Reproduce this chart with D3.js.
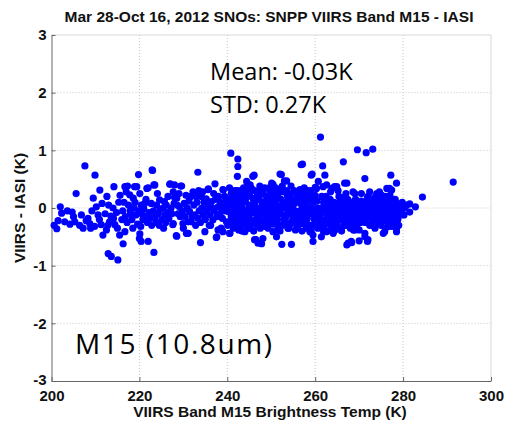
<!DOCTYPE html>
<html>
<head>
<meta charset="utf-8">
<script src="https://d3js.org/d3.v7.min.js"></script>
<style>
body { margin: 0; background: #fff; }
svg text { font-family: "Liberation Sans", Arial, sans-serif; }
</style>
</head>
<body>
<div id="chart"></div>
<script>
// chart values
var xTicks = [200, 220, 240, 260, 280, 300];
var yTicks = [-3, -2, -1, 0, 1, 2, 3];
var titleText = "Mar 28-Oct 16, 2012 SNOs: SNPP VIIRS Band M15 - IASI";
var statLines = ["Mean: -0.03K", "STD: 0.27K"];
var bandLabel = "M15 (10.8um)";

// [VIIRS brightness temp (K), VIIRS - IASI (K)]
var leftPoints = [
 [200.6,-0.30],[201.2,-0.36],[202.0,0.02],[202.3,-0.09],[203.0,-0.24],[203.6,-0.05],[201.5,-0.22],
 [204.7,-0.07],[205.3,-0.24],[205.6,0.25],[206.4,-0.30],[207.2,-0.35],[207.6,0.73],[205.0,-0.15],[206.8,-0.12],[207.9,-0.22],[204.2,-0.28],
 [208.3,-0.18],[208.9,-0.35],[209.5,0.17],[209.9,0.57],[210.2,0.02],[210.6,-0.12],[211.0,0.31],[211.3,-0.29],[211.7,-0.47],[209.2,-0.05],[210.9,-0.20],[211.5,0.08],[208.7,-0.27],[209.8,-0.32],
 [212.5,-0.38],[212.6,0.20],[212.9,-0.79],[213.2,-0.24],[213.6,-0.84],[214.0,0.00],[214.2,0.37],[214.4,-0.29],[215.1,-0.90],[215.6,0.22],[212.2,-0.10],[213.0,0.05],[213.5,-0.14],[214.8,-0.08],[215.3,0.10],[214.1,-0.18],[215.0,-0.35],[212.8,-0.30],[215.5,-0.47],
 [216.3,-0.62],[216.7,0.37],[217.0,0.28],[217.3,0.38],[217.8,0.23],[216.7,-0.41],[218.5,-0.35],[218.6,0.17],[218.9,0.37],[219.4,0.37],[219.8,0.58],[216.2,-0.05],[216.8,-0.15],[217.2,-0.25],[217.5,0.05],[218.0,-0.10],[218.3,-0.20],[218.8,0.00],[219.2,-0.12],[219.6,-0.28],[216.5,0.10],[217.9,-0.05],[219.0,0.10],[219.9,-0.05],[216.0,-0.20],
 [220.1,0.25],[220.0,-0.53],[220.1,-0.45],[220.4,0.05],[220.4,-0.58],[221.2,0.08],[221.7,0.34],[222.0,-0.58],[222.0,0.35],[222.7,0.08],[222.9,0.66],[223.0,0.65],[223.3,0.40],[223.3,-0.77],[223.5,0.40],[220.5,-0.10],[220.8,-0.20],[221.0,-0.02],[221.4,-0.15],[221.8,-0.25],[222.2,-0.08],[222.5,-0.18],[222.8,-0.30],[223.2,-0.05],[223.6,-0.15],[223.9,0.05],[221.5,0.15],[220.3,-0.32],[223.8,-0.25],
 [224.6,0.14],[225.7,0.11],[226.9,0.41],[227.0,0.42],[227.7,0.28],[227.6,-0.29],[227.7,-0.27],[228.0,0.40],[228.0,0.18],[228.4,-0.48],[228.5,0.17],[228.5,-0.49],[224.3,-0.10],[224.8,-0.02],[225.1,-0.20],[225.4,0.00],[225.8,-0.12],[226.1,0.05],[226.4,-0.08],[226.7,-0.18],[227.2,0.00],[227.4,-0.10],[224.5,-0.30],[225.5,-0.35],[226.5,0.20],[227.9,0.08],[224.1,0.25],[226.0,-0.25],
 [229.4,0.38],[229.6,0.38],[229.9,-0.27],[230.7,-0.44],[230.8,-0.44],[231.1,-0.24],[231.1,-0.44],[231.4,-0.06],[231.8,-0.24],[228.8,-0.10],[229.1,0.02],[229.3,-0.15],[229.8,-0.05],[230.2,0.08],[230.4,-0.15],[230.9,0.00],[231.3,0.12],[231.7,0.20],[228.6,0.05],[230.0,-0.35],[229.0,0.25],[230.6,0.22],
 [232.2,0.28],[232.6,-0.12],[232.9,0.20],[233.3,-0.18],[233.3,0.62],[233.9,-0.60],[234.1,0.20],[234.9,-0.41],[235.2,0.16],[235.6,0.32],[235.7,0.33],[232.4,0.05],[232.8,-0.30],[233.1,0.10],[233.6,-0.05],[233.9,-0.25],[234.2,0.00],[234.5,-0.12],[234.7,0.10],[235.0,-0.20],[235.3,-0.05],[235.6,0.05],[235.9,-0.30],[232.0,-0.15],[233.5,0.30],[234.4,0.28],
 [236.0,-0.12],[236.4,0.11],[236.7,-0.21],[237.2,0.42],[237.5,-0.51],[237.6,-0.50],[237.9,0.02],[237.9,-0.38],[238.6,0.00],[238.6,-0.35],[238.7,-0.38],[239.0,0.32],[239.0,-0.41],[239.1,0.31],[239.4,0.20],[239.8,0.11],[239.8,-0.24],[236.2,-0.30],[236.6,0.00],[237.0,-0.05],[237.3,0.15],[237.6,-0.15],[238.0,0.20],[238.3,-0.10],[238.9,-0.18],[239.3,-0.05],[239.6,0.02],[236.9,0.25],[238.4,0.10]
];

var midPoints = [
 [240.2,-0.06],[240.5,-0.44],[240.6,-0.44],[240.8,0.95],[240.9,-0.15],[240.3,0.15],[240.7,0.05],[240.4,-0.25],[240.9,0.25],[240.1,-0.30],[240.5,0.35],
 [241.2,-0.10],[241.5,0.00],[241.8,0.10],[241.3,0.20],[241.6,-0.20],[241.9,-0.30],[241.1,0.08],[241.4,-0.35],[241.7,0.30],[241.0,-0.22],
 [242.4,0.85],[242.4,0.72],[242.3,0.55],[242.8,0.20],[242.1,-0.05],[242.3,-0.15],[242.5,0.05],[242.7,-0.25],[242.9,0.10],[242.2,0.30],[242.6,-0.38],[242.0,0.18],[242.0,-0.28],
 [243.2,0.25],[243.1,-0.10],[243.4,0.00],[243.6,-0.20],[243.8,0.12],[243.3,-0.30],[243.7,0.35],[243.5,-0.05],[243.9,-0.15],[243.0,0.08],[243.0,0.30],[243.5,0.18],[243.3,-0.40],
 [244.0,-0.41],[244.4,0.46],[244.7,0.41],[244.2,0.10],[244.5,-0.05],[244.8,-0.20],[244.3,-0.28],[244.6,0.20],[244.9,0.00],[244.1,-0.12],[244.5,0.30],[244.0,0.25],[244.8,-0.35],
 [245.5,0.34],[245.8,0.55],[245.2,-0.10],[245.4,0.05],[245.6,-0.25],[245.9,0.15],[245.1,0.22],[245.3,-0.35],[245.7,-0.02],[245.0,-0.18],[245.2,0.40],
 [246.1,0.57],[246.2,-0.55],[246.5,-0.55],[246.3,0.10],[246.6,-0.10],[246.9,0.25],[246.4,-0.20],[246.7,0.00],[246.2,0.30],[246.8,-0.30],[246.0,0.05],[246.5,0.18],[246.0,-0.40],
 [247.0,-0.61],[247.1,-0.32],[247.8,-0.62],[247.3,0.15],[247.5,-0.05],[247.7,0.30],[247.2,-0.15],[247.9,0.05],[247.4,0.38],[247.6,-0.22],[247.0,0.20],[247.5,-0.35],
 [248.1,-0.53],[248.5,0.35],[248.2,0.10],[248.4,-0.10],[248.7,-0.25],[248.9,0.20],[248.3,-0.02],[248.6,0.05],[248.8,-0.15],[248.0,0.25],[248.2,0.30],[248.5,-0.32],
 [249.3,-0.35],[249.1,0.15],[249.4,0.00],[249.6,-0.20],[249.8,0.30],[249.2,-0.10],[249.5,0.22],[249.9,-0.05],[249.7,0.08],[249.0,-0.25],[249.5,0.35],
 [250.1,0.43],[250.4,0.41],[250.4,-0.41],[250.2,-0.15],[250.5,0.10],[250.7,-0.05],[250.9,0.20],[250.3,0.00],[250.6,-0.28],[250.8,-0.10],[250.0,-0.25],[250.5,0.30],[250.0,0.12],
 [251.2,-0.50],[251.5,0.23],[251.1,0.05],[251.4,-0.20],[251.7,0.00],[251.9,-0.30],[251.3,0.15],[251.6,-0.08],[251.8,0.30],[251.0,0.35],[251.5,-0.38],
 [252.0,0.59],[252.3,0.58],[252.4,-0.63],[252.7,0.28],[252.1,-0.10],[252.5,0.05],[252.8,-0.20],[252.2,0.15],[252.6,-0.30],[252.9,0.00],[252.0,-0.40],[252.5,0.38],
 [253.0,0.47],[253.5,0.47],[253.2,0.10],[253.4,-0.15],[253.7,0.20],[253.9,-0.05],[253.1,-0.25],[253.6,0.00],[253.8,-0.35],[253.0,-0.12],[253.5,0.30],
 [254.2,-0.29],[254.6,-0.63],[254.1,0.05],[254.4,-0.10],[254.7,0.25],[254.9,-0.20],[254.3,0.15],[254.8,0.00],[254.0,-0.35],[254.5,0.38],[254.5,-0.25],
 [255.9,0.24],[255.1,-0.15],[255.3,0.08],[255.5,-0.05],[255.7,-0.28],[255.2,0.30],[255.6,0.15],[255.8,-0.10],[255.4,-0.22],[255.0,0.12],[255.5,-0.38],
 [256.2,-0.21],[256.8,0.75],[256.8,-0.27],[256.4,0.10],[256.6,-0.05],[256.1,0.20],[256.9,0.05],[256.3,-0.12],[256.5,0.32],[256.0,-0.35],[256.7,0.20],
 [257.1,0.76],[257.3,0.00],[257.5,-0.15],[257.7,0.15],[257.9,-0.30],[257.2,0.25],[257.6,-0.08],[257.4,0.10],[257.8,-0.20],[257.0,-0.40],[257.5,0.35],
 [258.3,0.30],[258.4,-0.29],[258.8,-0.41],[258.1,0.05],[258.6,-0.10],[258.9,0.15],[258.2,-0.18],[258.7,0.00],[258.0,-0.35],[258.5,0.22],
 [259.1,0.57],[259.1,-0.41],[259.3,0.59],[259.5,-0.47],[259.5,-0.58],[259.9,0.17],[259.4,-0.05],[259.6,0.10],[259.8,-0.20],[259.2,0.00],[259.7,-0.12],[259.0,0.30],[259.3,-0.30],
 [260.0,0.36],[260.3,0.34],[260.3,-0.32],[260.7,0.46],[260.2,-0.10],[260.5,0.00],[260.8,-0.20],[260.4,0.12],[260.9,-0.05],[260.0,0.22],[260.6,-0.35]
];

var rightPoints = [
 [261.2,1.23],[261.4,-0.50],[261.7,0.73],[261.8,0.37],[261.9,-0.41],[261.1,-0.15],[261.3,0.00],[261.5,-0.08],[261.7,-0.25],[261.9,0.10],[261.2,-0.30],[261.5,0.20],
 [262.0,-0.35],[262.2,0.57],[262.5,0.20],[262.5,-0.41],[262.6,0.40],[262.1,-0.05],[262.3,0.05],[262.4,-0.20],[262.7,-0.12],[262.8,0.00],[262.2,-0.28],[262.6,0.12],[262.9,-0.40],
 [263.8,0.34],[263.1,-0.10],[263.3,0.02],[263.5,-0.18],[263.7,-0.05],[263.9,0.08],[263.2,-0.25],[263.4,0.15],[263.6,-0.30],[263.0,0.00],[263.8,-0.15],[263.5,0.28],
 [264.0,-0.41],[264.1,-0.44],[264.4,0.37],[264.9,0.37],[264.2,-0.08],[264.5,0.00],[264.7,-0.20],[264.3,0.10],[264.6,-0.12],[264.8,0.05],[264.1,-0.25],[264.9,-0.30],[264.5,-0.38],
 [265.9,-0.35],[265.1,-0.05],[265.3,0.05],[265.5,-0.15],[265.7,0.12],[265.2,-0.22],[265.6,-0.08],[265.8,0.00],[265.4,0.20],[265.0,-0.30],[265.5,-0.10],[265.2,0.30],
 [266.4,0.80],[266.7,0.43],[266.1,-0.12],[266.3,0.00],[266.5,-0.22],[266.7,-0.05],[266.9,0.10],[266.2,0.18],[266.6,-0.30],[266.8,-0.15],[266.0,0.05],[266.0,-0.40],
 [267.2,0.43],[267.2,-0.64],[267.5,-0.61],[267.1,-0.08],[267.3,0.02],[267.5,-0.18],[267.7,0.08],[267.9,-0.25],[267.4,0.15],[267.6,-0.10],[267.8,0.00],[267.0,-0.30],[267.0,0.25],
 [268.2,-0.58],[268.3,-0.60],[268.6,0.28],[268.7,-0.38],[268.1,-0.05],[268.3,0.05],[268.5,-0.15],[268.8,-0.08],[268.9,0.12],[268.4,-0.25],[268.0,0.00],[268.6,-0.02],[268.0,-0.35],
 [269.0,-0.38],[269.4,-0.32],[269.6,1.01],[269.1,-0.10],[269.3,0.00],[269.5,-0.20],[269.7,0.05],[269.9,-0.12],[269.2,0.15],[269.8,-0.25],[269.4,-0.05],[269.0,0.25],
 [270.0,-0.57],[270.2,-0.05],[270.4,0.05],[270.6,-0.15],[270.8,0.00],[270.3,-0.25],[270.5,0.12],[270.7,-0.08],[270.9,-0.20],[270.1,0.08],[270.0,-0.38],[270.5,0.25],
 [271.3,-0.50],[271.3,0.51],[271.3,-0.44],[271.6,0.96],[271.9,-0.58],[271.1,-0.10],[271.2,0.02],[271.5,-0.18],[271.6,0.10],[271.8,-0.05],[271.9,0.18],[271.4,-0.25],[271.0,0.00],
 [272.0,-0.55],[272.4,0.28],[272.1,-0.08],[272.3,0.05],[272.5,-0.15],[272.7,0.00],[272.9,-0.22],[272.2,0.12],[272.6,-0.05],[272.8,0.08],[272.4,-0.30],[272.0,0.20],
 [273.1,1.02],[273.6,-0.35],[273.2,-0.10],[273.4,0.02],[273.6,-0.05],[273.8,0.10],[273.0,0.00],[273.3,-0.20],[273.7,-0.15],[273.9,0.05],[273.5,0.18],[273.0,-0.30],
 [274.6,0.28],[274.1,-0.05],[274.3,0.05],[274.5,-0.12],[274.7,0.00],[274.9,-0.20],[274.2,0.15],[274.8,0.08],[274.4,-0.25],[274.0,-0.10],[274.0,0.25],
 [275.0,0.23],[275.5,-0.44],[275.8,-0.41],[275.2,-0.05],[275.4,0.05],[275.6,-0.15],[275.8,0.00],[275.1,0.10],[275.3,-0.22],[275.7,0.15],[275.9,-0.08],[275.0,-0.30],
 [276.3,0.34],[276.9,0.34],[276.1,-0.10],[276.4,0.00],[276.6,-0.15],[276.8,0.10],[276.2,0.05],[276.5,-0.25],[276.7,-0.05],[276.0,0.20],[276.0,-0.35],
 [277.0,-0.32],[277.2,0.57],[277.4,0.31],[277.7,-0.32],[277.1,-0.05],[277.3,0.05],[277.5,-0.12],[277.7,0.00],[277.9,0.10],[277.6,-0.20],[277.2,0.15],[277.0,0.22],
 [278.5,0.43],[278.5,-0.35],[278.5,-0.41],[278.8,-0.08],[278.8,-0.20],[278.1,0.00],[278.3,-0.10],[278.6,0.08],[278.2,0.15],[278.9,-0.15],[278.0,-0.25],
 [279.2,0.05],[279.5,-0.05],[279.8,0.10],[279.0,-0.30],[280.2,-0.12],[280.4,0.00],[280.8,0.05],[281.5,0.07],[281.5,-0.07],[282.8,0.02],[284.4,0.19],[291.4,0.45]
];

var W = 506, H = 426;
var svg = d3.select("#chart").append("svg")
    .attr("width", W)
    .attr("height", H);

var x = d3.scaleLinear().domain([200, 300]).range([51.5, 491]);
var y = d3.scaleLinear().domain([-3, 3]).range([381, 35]);

// dotted grid
svg.append("g").selectAll("line").data(xTicks.slice(1, -1)).enter().append("line")
    .attr("x1", d => x(d)).attr("x2", d => x(d))
    .attr("y1", y(3)).attr("y2", y(-3))
    .attr("stroke", "#c8c8c8").attr("stroke-dasharray", "1,2");
svg.append("g").selectAll("line").data(yTicks.slice(1, -1)).enter().append("line")
    .attr("x1", x(200)).attr("x2", x(300))
    .attr("y1", d => y(d)).attr("y2", d => y(d))
    .attr("stroke", "#c8c8c8").attr("stroke-dasharray", "1,2");

// box top/right
svg.append("line").attr("x1", x(200)).attr("x2", x(300)).attr("y1", y(3)).attr("y2", y(3))
    .attr("stroke", "#d8d8d8");
svg.append("line").attr("x1", x(300)).attr("x2", x(300)).attr("y1", y(3)).attr("y2", y(-3))
    .attr("stroke", "#d8d8d8");

// axes
var xAxis = svg.append("g").attr("transform", "translate(0," + y(-3) + ")")
    .call(d3.axisBottom(x).tickValues(xTicks).tickFormat(d => String(d))
      .tickSizeInner(-4).tickSizeOuter(0).tickPadding(7));
var yAxis = svg.append("g").attr("transform", "translate(" + x(200) + ",0)")
    .call(d3.axisLeft(y).tickValues(yTicks).tickFormat(d => String(d))
      .tickSizeInner(-4).tickSizeOuter(0).tickPadding(5));
[xAxis, yAxis].forEach(function (g) {
  g.select(".domain").attr("stroke", "#666");
  g.selectAll(".tick line").attr("stroke", "#666");
  g.selectAll(".tick text")
    .style("font-family", "'Liberation Sans', Arial, sans-serif")
    .style("font-size", "15px").style("font-weight", "bold").attr("fill", "#111");
});
xAxis.selectAll(".tick text").attr("dy", "0.85em");
// lift the bottom y label a touch so it clears the "200" below it
yAxis.selectAll(".tick text").filter(d => d === -3).attr("dy", "0.2em");

// points
var allPoints = leftPoints.concat(midPoints, rightPoints);
svg.append("g").selectAll("circle").data(allPoints).enter().append("circle")
    .attr("cx", d => x(d[0]))
    .attr("cy", d => y(d[1]))
    .attr("r", 3.6)
    .attr("fill", "#0000ff");

// title and labels
svg.append("text").text(titleText)
    .attr("x", 269).attr("y", 22).attr("text-anchor", "middle")
    .style("font-size", "15.5px").style("font-weight", "bold").attr("fill", "#111");
svg.append("text").text("VIIRS Band M15 Brightness Temp (K)")
    .attr("x", 270).attr("y", 417).attr("text-anchor", "middle")
    .style("font-size", "15.5px").style("font-weight", "bold").attr("fill", "#111");
svg.append("text").text("VIIRS - IASI (K)")
    .attr("transform", "translate(25," + y(0) + ") rotate(-90)")
    .attr("text-anchor", "middle")
    .style("font-size", "15.5px").style("font-weight", "bold").attr("fill", "#111");

svg.selectAll(".stat").data(statLines).enter().append("text")
    .attr("class", "stat")
    .text(d => d)
    .attr("x", 210).attr("y", (d, i) => 80 + i * 33)
    .style("font-family", "'Open Sans', sans-serif")
    .style("font-size", "23.5px").attr("fill", "#000");

svg.append("text").text(bandLabel)
    .attr("x", 75).attr("y", 354)
    .style("font-family", "'Open Sans', sans-serif")
    .style("font-size", "28px").attr("textLength", 197).attr("fill", "#000");
</script>
</body>
</html>
